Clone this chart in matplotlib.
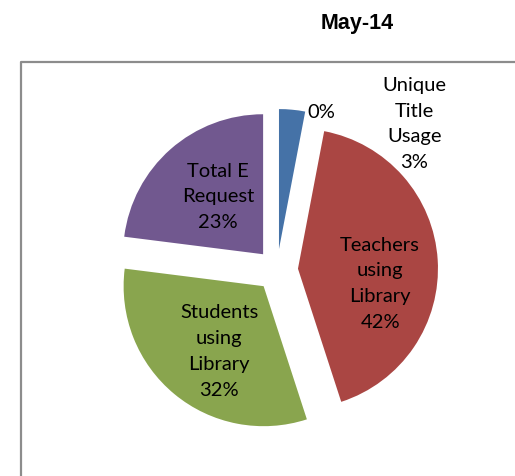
import matplotlib
matplotlib.use("Agg")
import matplotlib.pyplot as plt
from matplotlib.lines import Line2D

# data
categories = ["Unique\nTitle\nUsage", "Teachers\nusing\nLibrary", "Students\nusing\nLibrary", "Total E\nRequest", ""]
shares = [3, 42, 32, 23, 0]
colors = ["#4572A7", "#AA4643", "#89A54E", "#71588F", "#4198AF"]
title = "May-14"

# label centres in axes data units (pie radius = 1)
label_pos = [(0.982, 1.05), (0.737, -0.09), (-0.414, -0.575), (-0.421, 0.53), (0.313, 1.135)]

W, H = 515, 477
fig = plt.figure(figsize=(W / 100, H / 100), dpi=100)

# pie axes: centre at (277, 271) px from top-left, radius 140 px
scale = 140
lim = 1.5
side = 2 * lim * scale
cx, cy = 277, H - 271
ax = fig.add_axes([(cx - side / 2) / W, (cy - side / 2) / H, side / W, side / H])

wedges, _ = ax.pie(shares, colors=colors, startangle=90, counterclock=False,
                   explode=[0.15] * len(shares), radius=1,
                   wedgeprops=dict(linewidth=0))
ax.set_xlim(-lim, lim)
ax.set_ylim(-lim, lim)
ax.set_aspect("equal")
ax.axis("off")

total = sum(shares)
for name, val, (lx, ly) in zip(categories, shares, label_pos):
    pct = f"{round(100 * val / total)}%"
    txt = f"{name}\n{pct}" if name else pct
    ax.text(lx, ly, txt, ha="center", va="center", fontsize=14.5,
            family="Lato", linespacing=1.62, color="black")

# chart frame (cut off on right and bottom)
fx = 21 / W
fy = 1 - 63 / H
fig.add_artist(Line2D([fx, fx, 1.01], [-0.01, fy, fy], color="#8c8c8c", linewidth=1.6,
                      transform=fig.transFigure))

fig.text(357 / W, 1 - 23 / H, title, ha="center", va="center", fontsize=15.5,
         fontweight="bold", family="Liberation Sans")

fig.savefig("out.png", dpi=100)
